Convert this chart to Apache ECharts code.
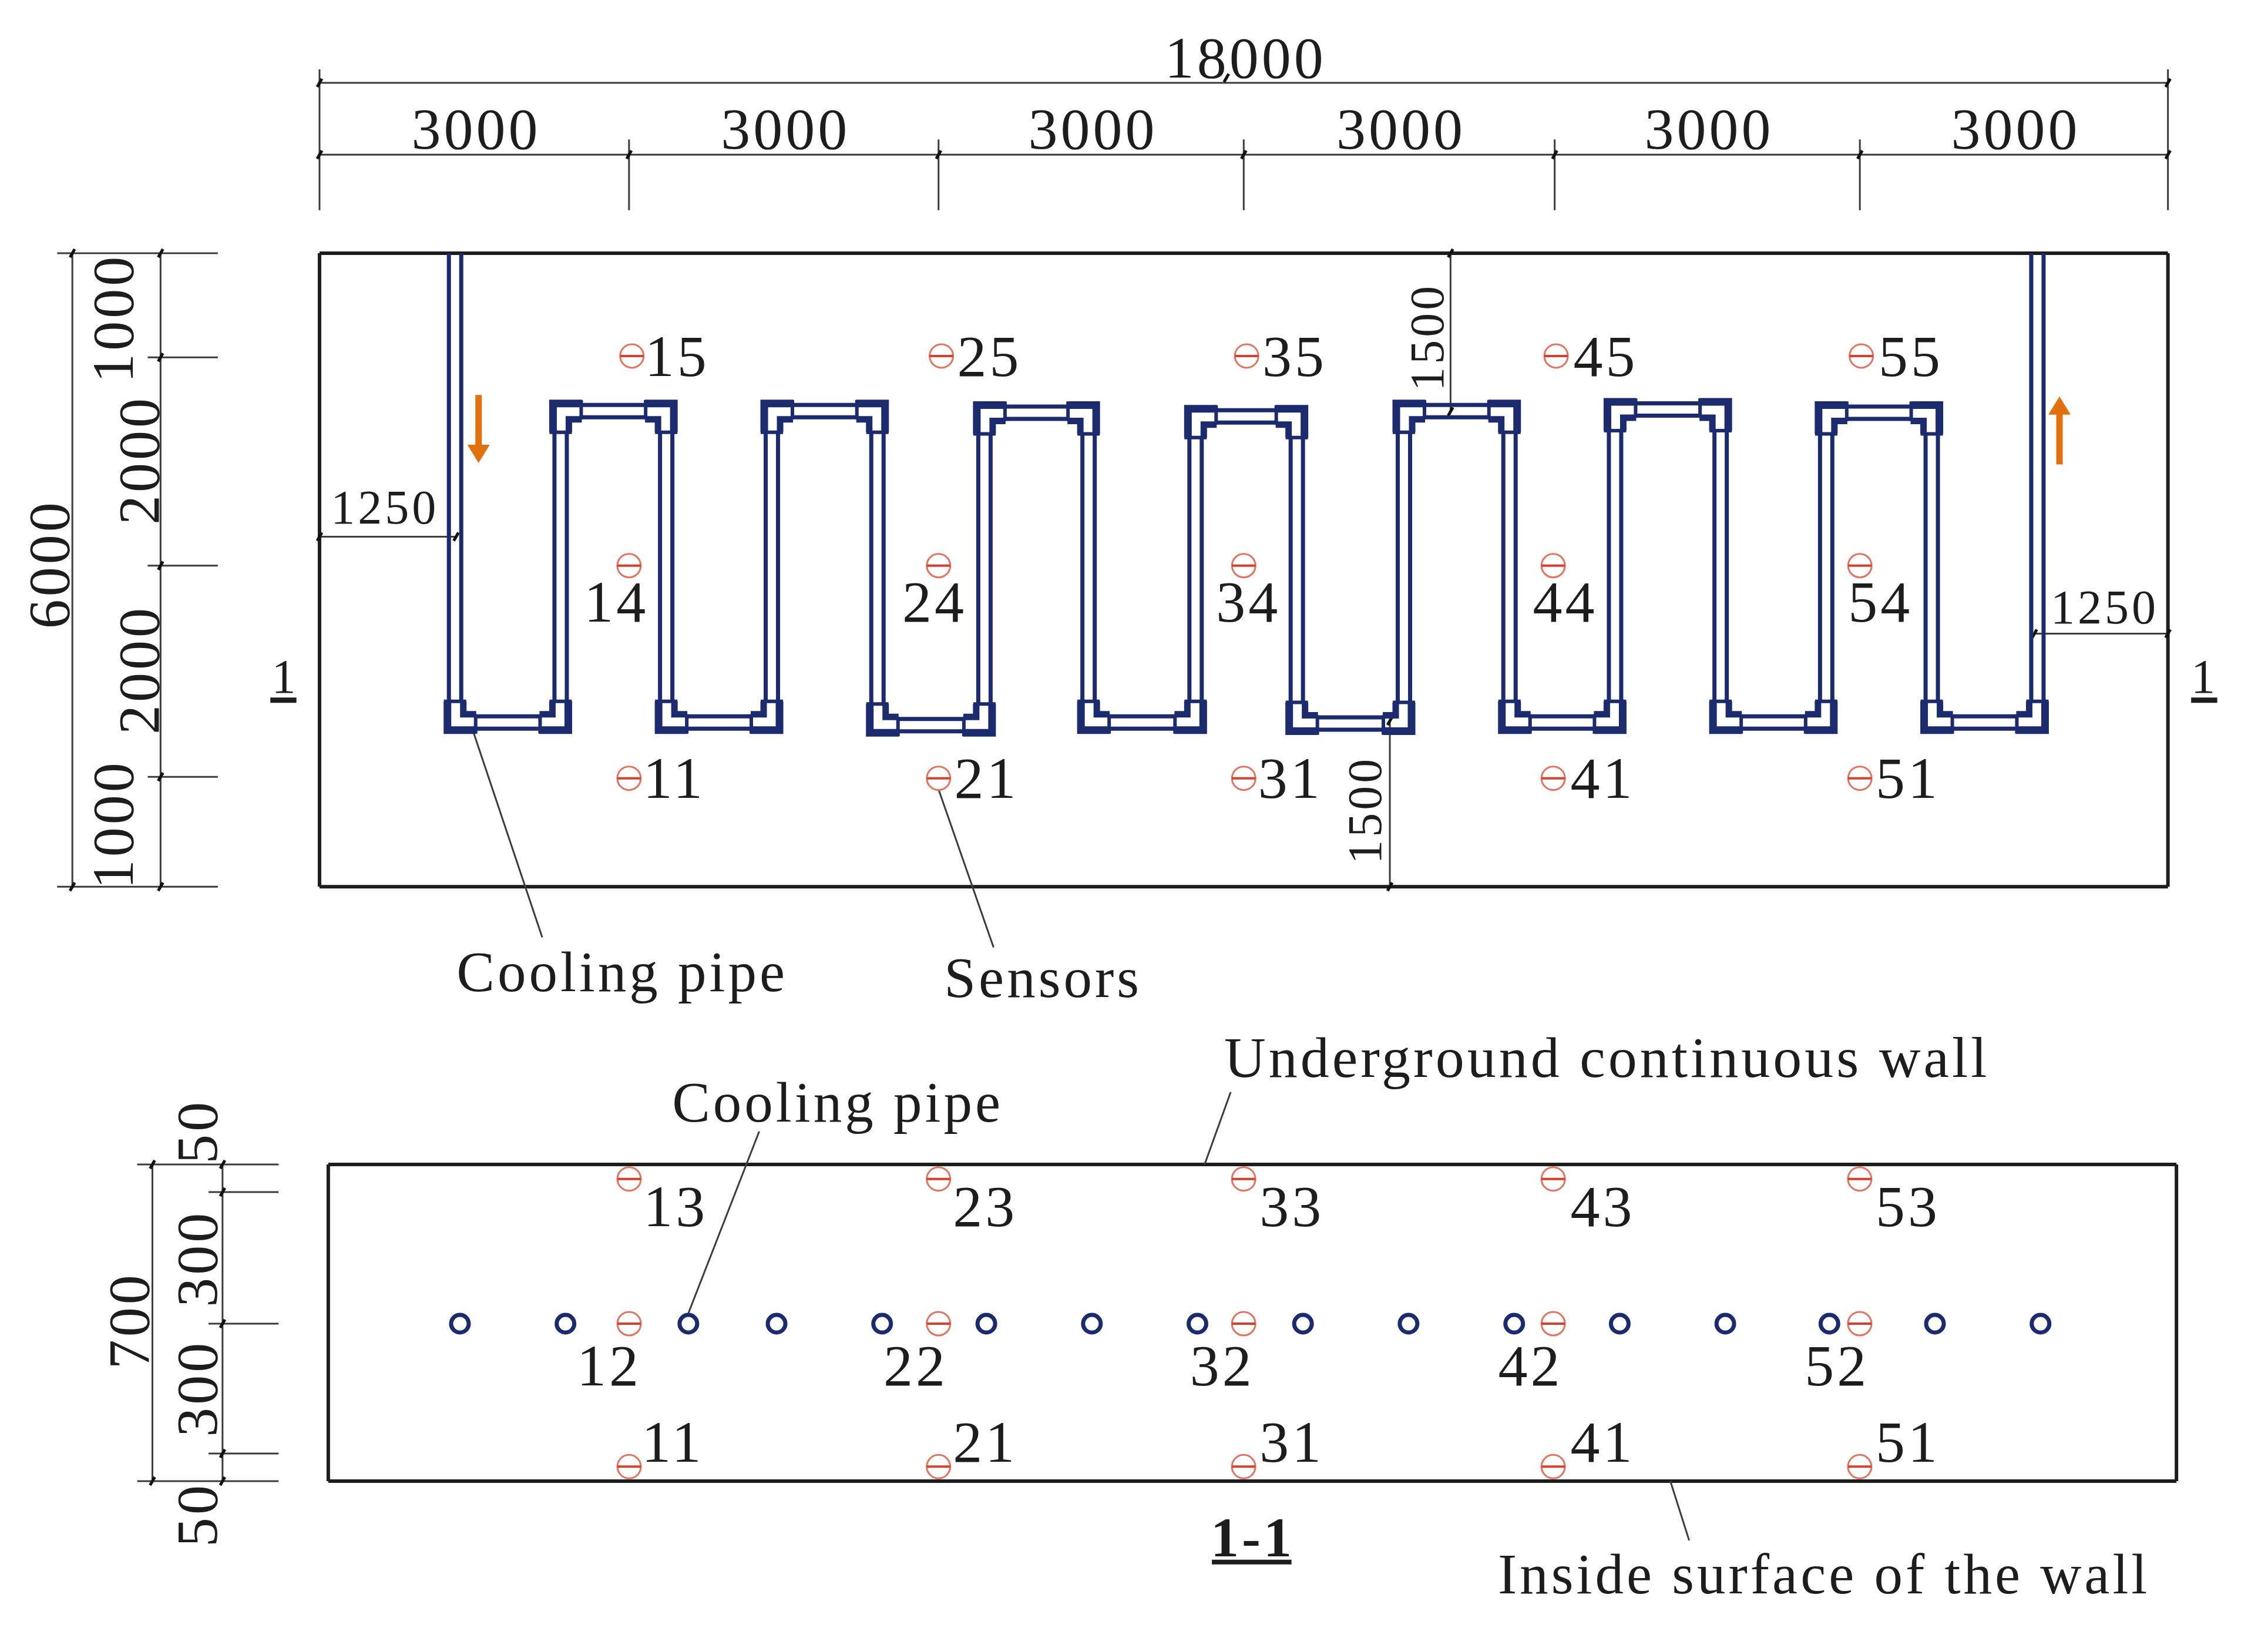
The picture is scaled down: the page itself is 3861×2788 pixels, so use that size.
<!DOCTYPE html>
<html>
<head>
<meta charset="utf-8">
<style>
html, body { margin: 0; padding: 0; background: #fff; }
#main { width: 3861px; height: 2788px; }
</style>
<script src="https://cdn.jsdelivr.net/npm/echarts@6/dist/echarts.min.js"></script>
</head>
<body>
<div id="main"></div>
<script>
// all values below are millimetres on the drawing
var wallLength = 18000, wallHeight = 6000, wallThickness = 700;

var spanEdges = [0, 3014, 6028, 9000, 12028, 15000, 18000];
var spanLabels = ['3000', '3000', '3000', '3000', '3000', '3000'];
var heightEdges = [6000, 5014, 3041, 1041, 0];
var sectionEdges = [700, 639, 348, 61, 0];

// cooling pipe legs, and the level of the run joining each pair
var legX = [1320, 2348, 3376, 4405, 5433, 6475, 7489, 8531, 9517, 10560, 11588, 12616, 13644, 14672, 15700, 16729];
var topRunY = [4505, 4505, 4490, 4455, 4505, 4520, 4490];
var bottomRunY = [1555, 1555, 1530, 1555, 1545, 1555, 1555, 1555];
var sectionPipeX = [1282, 2310, 3507, 4366, 5394, 6409, 7437, 8465, 9493, 10521, 11550, 12578, 13606, 14620, 15648, 16676];
var sectionPipeY = 348;

var sensorPlanX = [3014, 6028, 9000, 12014, 15000];
var sensorPlanTopX = [3042, 6056, 9028, 12042, 15014];
var sensorSectionX = [2930, 5943, 8915, 11930, 14915];
var sensorPlanRows = [5027, 3041, 1027];
var sensorSectionRows = [668, 348, 32];

var planTopIds = [[3465, '15'], [6507, '25'], [9479, '35'], [12507, '45'], [15479, '55']];
var planMidIds = [[2873, '14'], [5972, '24'], [9029, '34'], [12113, '44'], [15184, '54']];
var planLowIds = [[3437, '11'], [6479, '21'], [9437, '31'], [12479, '41'], [15451, '51']];
var sectionTopIds = [[3366, '13'], [6381, '23'], [9367, '33'], [12395, '43'], [15367, '53']];
var sectionMidIds = [[2718, '12'], [5704, '22'], [8690, '32'], [11691, '42'], [14677, '52']];
var sectionLowIds = [[3338, '11'], [6381, '21'], [9367, '31'], [12395, '41'], [15367, '51']];

var leaderLines = [[1493, 1480, 2169, -480], [6000, 1000, 6564, -575]];
var sectionLeaders = [[3507, 371, 4197, 773], [8535, 700, 8789, 860], [13071, 0, 13254, -131]];

var navy = '#1c2b6e', ink = '#1d1d1d', thin = '#3c3c3c', orange = '#e2700f';
var serif = '"Liberation Serif", "Times New Roman", serif';

var chart = echarts.init(document.getElementById('main'), null, { renderer: 'canvas' });
// the drawing's lettering is tracked out, zrender has no option for that
chart.getZr().painter.getLayer(0).ctx.letterSpacing = '5px';

function segmentSeries(gridIndex, segments, width, color) {
    return {
        type: 'custom', xAxisIndex: gridIndex, yAxisIndex: gridIndex, silent: true,
        data: segments,
        encode: { x: [0, 2], y: [1, 3] },
        renderItem: function (params, api) {
            var a = api.coord([api.value(0), api.value(1)]);
            var b = api.coord([api.value(2), api.value(3)]);
            return {
                type: 'line',
                shape: { x1: a[0], y1: a[1], x2: b[0], y2: b[1] },
                style: { stroke: color, lineWidth: width, fill: null }
            };
        }
    };
}

function textSeries(gridIndex, items, size, options) {
    options = options || {};
    return {
        type: 'custom', xAxisIndex: gridIndex, yAxisIndex: gridIndex, silent: true,
        data: items.map(function (d) { return [d[0], d[1]]; }),
        renderItem: function (params, api) {
            var p = api.coord([api.value(0), api.value(1)]);
            // nudge: the font box sits a little above the digits' optical middle
            return {
                type: 'text',
                x: p[0] + (options.rotated ? 5 : 3), y: p[1] + (options.rotated ? 0 : 5),
                rotation: options.rotated ? Math.PI / 2 : 0,
                style: {
                    text: items[params.dataIndex][2],
                    font: (options.bold ? 'bold ' : '') + size + 'px ' + serif,
                    fill: ink, align: 'center', verticalAlign: 'middle'
                }
            };
        }
    };
}

function tickSeries(gridIndex, points) {
    return {
        type: 'custom', xAxisIndex: gridIndex, yAxisIndex: gridIndex, silent: true,
        data: points,
        renderItem: function (params, api) {
            var p = api.coord([api.value(0), api.value(1)]);
            return {
                type: 'line',
                shape: { x1: p[0] - 4, y1: p[1] + 7, x2: p[0] + 4, y2: p[1] - 7 },
                style: { stroke: '#111', lineWidth: 5 }
            };
        }
    };
}

function sensorSeries(gridIndex, points) {
    return {
        type: 'custom', xAxisIndex: gridIndex, yAxisIndex: gridIndex, silent: true,
        data: points,
        renderItem: function (params, api) {
            var p = api.coord([api.value(0), api.value(1)]);
            return {
                type: 'group',
                children: [
                    { type: 'circle', shape: { cx: p[0], cy: p[1], r: 20 }, style: { fill: '#fff', stroke: '#e2735f', lineWidth: 3 } },
                    { type: 'line', shape: { x1: p[0] - 20, y1: p[1], x2: p[0] + 20, y2: p[1] }, style: { stroke: '#d4412f', lineWidth: 4 } }
                ]
            };
        }
    };
}

function arrowSeries(points) {
    // [x, tail y, head y]
    return {
        type: 'custom', xAxisIndex: 0, yAxisIndex: 0, silent: true,
        data: points,
        renderItem: function (params, api) {
            var tail = api.coord([api.value(0), api.value(1)]);
            var head = api.coord([api.value(0), api.value(2)]);
            var dir = head[1] > tail[1] ? 1 : -1;
            return {
                type: 'group',
                children: [
                    { type: 'line', shape: { x1: tail[0], y1: tail[1], x2: head[0], y2: head[1] - dir * 25 }, style: { stroke: orange, lineWidth: 11 } },
                    { type: 'polygon', shape: { points: [[head[0], head[1]], [head[0] - 19, head[1] - dir * 31], [head[0] + 19, head[1] - dir * 31]] }, style: { fill: orange } }
                ]
            };
        }
    };
}

// pipe centre line: down from the wall top, then up and down around each leg
var pipeX = [legX[0]], pipeY = [wallHeight];
legX.forEach(function (x, i) {
    if (i % 2 === 0) {
        pipeX.push(x, legX[i + 1]);
        pipeY.push(bottomRunY[i / 2], bottomRunY[i / 2]);
    } else if (i < legX.length - 1) {
        pipeX.push(x, legX[i + 1]);
        pipeY.push(topRunY[(i - 1) / 2], topRunY[(i - 1) / 2]);
    }
});
pipeX.push(legX[legX.length - 1]);
pipeY.push(wallHeight);

var pipePoints = pipeX.map(function (x, i) { return [x, pipeY[i]]; });

var pipeWalls = {
    type: 'custom', xAxisIndex: 0, yAxisIndex: 0, silent: true,
    data: pipePoints.slice(0, -1),
    renderItem: function (params, api) {
        var i = params.dataIndex;
        var a = api.coord(pipePoints[i]), b = api.coord(pipePoints[i + 1]);
        var len = Math.sqrt((b[0] - a[0]) * (b[0] - a[0]) + (b[1] - a[1]) * (b[1] - a[1]));
        var ux = (b[0] - a[0]) / len, uy = (b[1] - a[1]) / len;
        var startTrim = i === 0 ? 0 : 35, endTrim = i === pipePoints.length - 2 ? 0 : 35;
        var s = [a[0] + ux * startTrim, a[1] + uy * startTrim], e = [b[0] - ux * endTrim, b[1] - uy * endTrim];
        var style = { stroke: navy, lineWidth: 7 };
        return {
            type: 'group',
            children: [
                { type: 'line', shape: { x1: s[0] - uy * 10.5, y1: s[1] + ux * 10.5, x2: e[0] - uy * 10.5, y2: e[1] + ux * 10.5 }, style: style },
                { type: 'line', shape: { x1: s[0] + uy * 10.5, y1: s[1] - ux * 10.5, x2: e[0] + uy * 10.5, y2: e[1] - ux * 10.5 }, style: style }
            ]
        };
    }
};

var pipeElbows = {
    type: 'custom', xAxisIndex: 0, yAxisIndex: 0, silent: true,
    data: pipePoints.slice(1, -1),
    renderItem: function (params, api) {
        var i = params.dataIndex + 1;
        var c = api.coord(pipePoints[i]), prev = api.coord(pipePoints[i - 1]), next = api.coord(pipePoints[i + 1]);
        var across = Math.abs(prev[0] - c[0]) > Math.abs(prev[1] - c[1]) ? prev : next;
        var along = across === prev ? next : prev;
        var sx = across[0] > c[0] ? 1 : -1, sy = along[1] > c[1] ? 1 : -1;
        function at(u, v) { return [c[0] + sx * u, c[1] + sy * v]; }
        function bar(points, width) {
            return { type: 'polyline', shape: { points: points }, style: { stroke: navy, lineWidth: width, fill: null, lineJoin: 'miter' } };
        }
        return {
            type: 'group',
            children: [
                bar([at(36, -13), at(-13, -13), at(-13, 36)], 13),
                bar([at(36, 14), at(14, 14), at(14, 36)], 11),
                bar([at(35, -19), at(35, 14)], 6),
                bar([at(-19, 36), at(19, 36)], 6)
            ]
        };
    }
};

var series = [];

// plan: wall outline and dimension lines
series.push(segmentSeries(0, [
    [0, 0, wallLength, 0], [0, wallHeight, wallLength, wallHeight],
    [0, 0, 0, wallHeight], [wallLength, 0, wallLength, wallHeight]
], 6, ink));

var planThin = [
    [0, 7615, wallLength, 7615], [0, 6934, wallLength, 6934],
    [-2407, 0, -2407, wallHeight], [-1548, 0, -1548, wallHeight],
    [-2555, 6000, -990, 6000], [-2555, 0, -990, 0],
    [0, 3315, 1330, 3315], [16700, 2397, wallLength, 2397],
    [11014, 4500, 11014, wallHeight], [10423, 0, 10423, 1570],
    leaderLines[0], leaderLines[1]
];
spanEdges.forEach(function (x, i) {
    var last = i === 0 || i === spanEdges.length - 1;
    planThin.push([x, last ? 7742 : 7078, x, 6408]);
});
heightEdges.slice(1, -1).forEach(function (y) { planThin.push([-1673, y, -990, y]); });
series.push(segmentSeries(0, planThin, 3, thin));

var planTicks = [[0, 7615], [wallLength, 7615], [8831, 7660], [1330, 3315], [0, 3315], [16700, 2397], [wallLength, 2397],
    [11014, wallHeight], [11014, 4500], [10423, 1570], [10423, 0], [-2407, wallHeight], [-2407, 0]];
spanEdges.forEach(function (x) { planTicks.push([x, 6934]); });
heightEdges.forEach(function (y) { planTicks.push([-1548, y]); });
series.push(tickSeries(0, planTicks));

// section-mark underlines
series.push(segmentSeries(0, [[-479, 1767, -225, 1767], [18226, 1767, 18480, 1767]], 9, ink));

series.push(pipeWalls, pipeElbows);
series.push(arrowSeries([[1549, 4658, 4014], [16944, 4000, 4644]]));

var planSensors = [];
sensorPlanRows.forEach(function (y, r) {
    (r === 0 ? sensorPlanTopX : sensorPlanX).forEach(function (x) { planSensors.push([x, y]); });
});
series.push(sensorSeries(0, planSensors));

// plan lettering
var spanText = spanLabels.map(function (t, i) { return [(spanEdges[i] + spanEdges[i + 1]) / 2, 7165, t]; });
series.push(textSeries(0, spanText.concat([[9000, 7836, '18000']]), 100));
series.push(textSeries(0, [[-2620, 3055, '6000'], [-2000, 5384, '1000'], [-1747, 4041, '2000'], [-1747, 2055, '2000'], [-2000, 589, '1000']], 100, { rotated: true }));
series.push(textSeries(0, [[620, 3589, '1250'], [17367, 2644, '1250']], 82));
series.push(textSeries(0, [[10789, 5206, '1500'], [10183, 726, '1500']], 82, { rotated: true }));
series.push(textSeries(0, [[-352, 1986, '1'], [18339, 1986, '1']], 82));
series.push(textSeries(0, [[2930, -822, 'Cooling pipe'], [7028, -877, 'Sensors']], 97));
function idRow(ids, y) { return ids.map(function (d) { return [d[0], y, d[1]]; }); }
series.push(textSeries(0, idRow(planTopIds, 5014).concat(idRow(planMidIds, 2685), idRow(planLowIds, 1014)), 100));

// section 1-1
series.push(segmentSeries(1, [
    [0, 0, wallLength, 0], [0, wallThickness, wallLength, wallThickness],
    [0, 0, 0, wallThickness], [wallLength, 0, wallLength, wallThickness]
], 6, ink));
var sectionThin = [
    [-1713, 0, -1713, wallThickness], [-1030, 0, -1030, wallThickness],
    [-1861, 700, -484, 700], [-1861, 0, -484, 0],
    sectionLeaders[0], sectionLeaders[1], sectionLeaders[2]
];
sectionEdges.slice(1, -1).forEach(function (y) { sectionThin.push([-1167, y, -484, y]); });
series.push(segmentSeries(1, sectionThin, 3, thin));
var sectionTicks = [[-1713, 700], [-1713, 0]];
sectionEdges.forEach(function (y) { sectionTicks.push([-1030, y]); });
series.push(tickSeries(1, sectionTicks));
series.push(segmentSeries(1, [[8606, -179, 9381, -179]], 8, ink));

series.push({
    type: 'scatter', xAxisIndex: 1, yAxisIndex: 1, silent: true,
    symbol: 'circle', symbolSize: 30,
    itemStyle: { color: '#fff', borderColor: navy, borderWidth: 7, opacity: 1 },
    data: sectionPipeX.map(function (x) { return [x, sectionPipeY]; })
});
var sectionSensors = [];
sensorSectionRows.forEach(function (y) {
    sensorSectionX.forEach(function (x) { sectionSensors.push([x, y]); });
});
series.push(sensorSeries(1, sectionSensors));

series.push(textSeries(1, [[-1930, 355, '700'], [-1268, 773, '50'], [-1268, 492, '300'], [-1268, 205, '300'], [-1268, -74, '50']], 100, { rotated: true }));
series.push(textSeries(1, [[4944, 834, 'Cooling pipe'], [14550, -208, 'Inside surface of the wall']], 97));
series.push(textSeries(1, [[12437, 933, 'Underground continuous wall']], 98));
series.push(textSeries(1, [[8986, -128, '1-1']], 96, { bold: true }));
series.push(textSeries(1, idRow(sectionTopIds, 604).concat(idRow(sectionMidIds, 252), idRow(sectionLowIds, 83)), 100));

chart.setOption({
    backgroundColor: '#fff',
    animation: false,
    tooltip: { show: false },
    grid: [
        { left: 19.5, top: 17.8, width: 3811, height: 1725 },
        { left: 34.5, top: 1751, width: 3793, height: 1001 }
    ],
    xAxis: [
        { type: 'value', gridIndex: 0, min: -3000, max: 18800, show: false },
        { type: 'value', gridIndex: 1, min: -3000, max: 18700, show: false }
    ],
    yAxis: [
        { type: 'value', gridIndex: 0, min: -1300, max: 8300, show: false },
        { type: 'value', gridIndex: 1, min: -300, max: 1000, show: false }
    ],
    series: series
});
</script>
</body>
</html>
